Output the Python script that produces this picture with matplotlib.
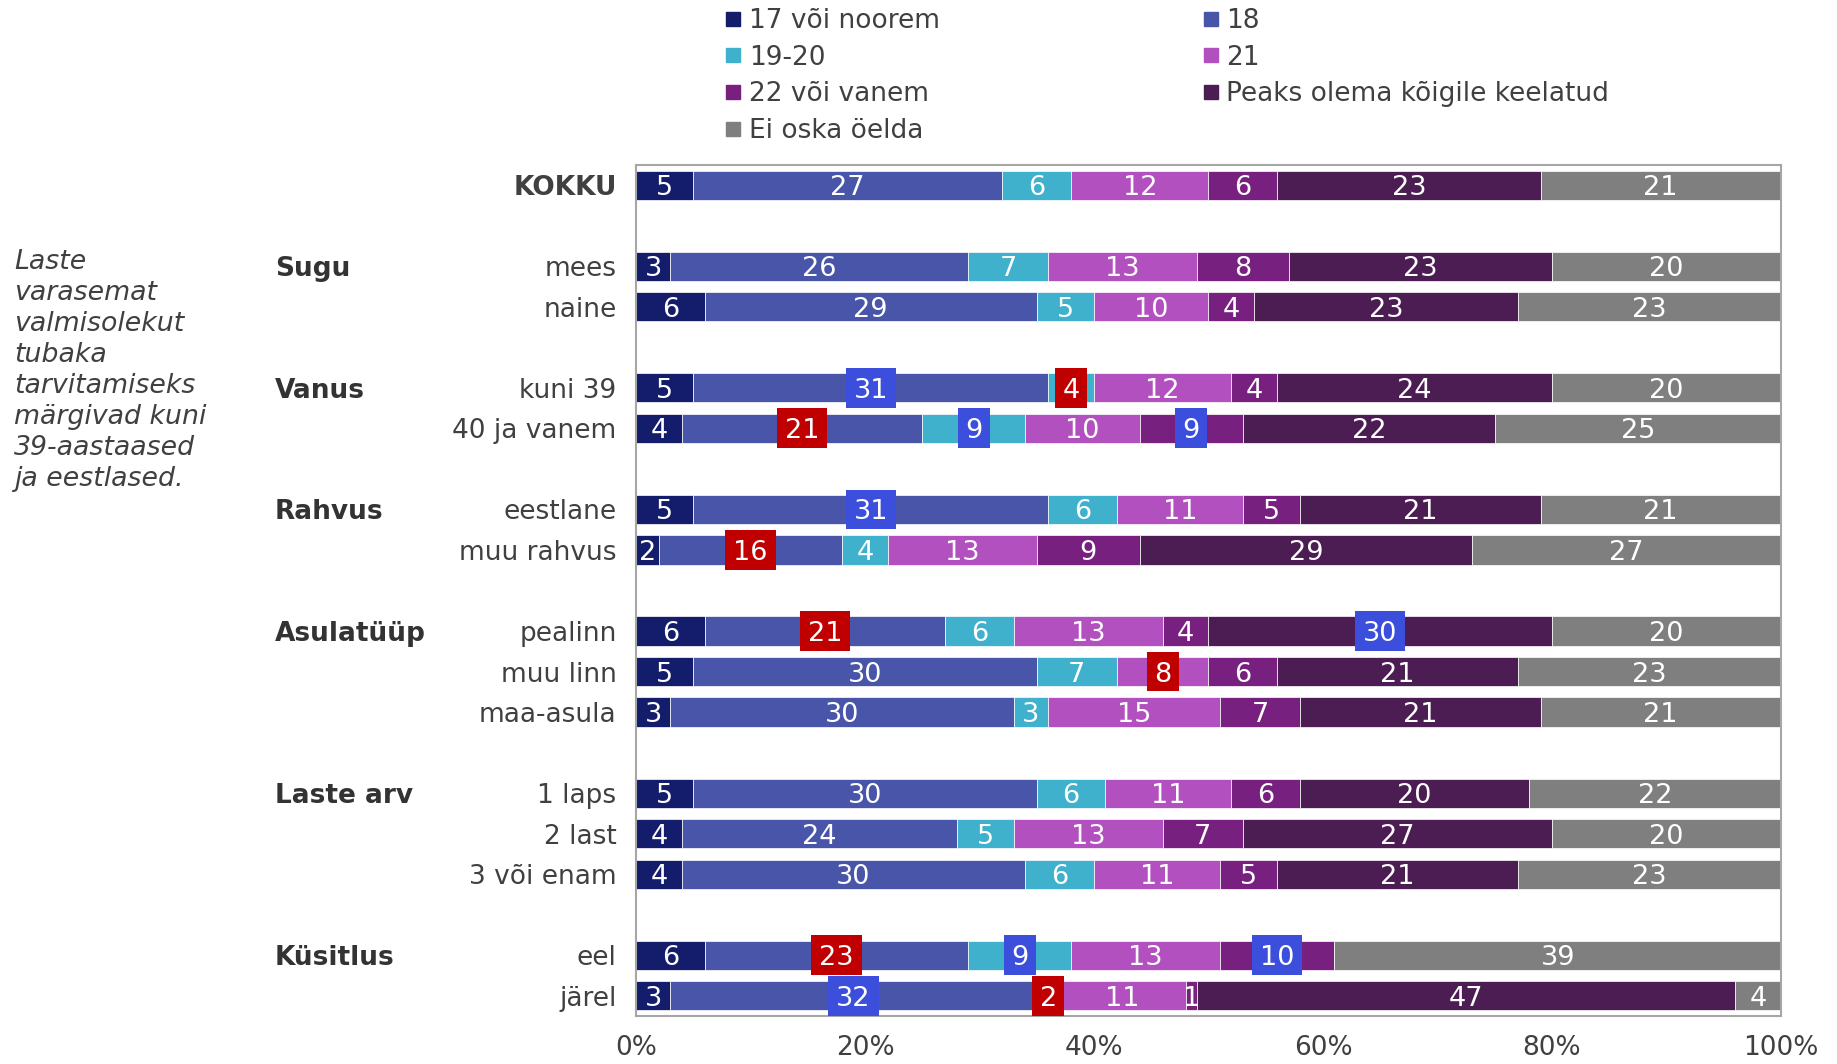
import numpy as np
import matplotlib
matplotlib.use("Agg")
import matplotlib.pyplot as plt
import matplotlib.transforms as mtransforms
from matplotlib.patches import Rectangle
from matplotlib.lines import Line2D

plt.rcParams['font.family'] = ['DejaVu Sans']

# groups and rows (top to bottom)
groups = ["", "Sugu", "Vanus", "Rahvus", "Asulatüüp", "Laste arv", "Küsitlus"]
rows = [["KOKKU"],
        ["mees", "naine"],
        ["kuni 39", "40 ja vanem"],
        ["eestlane", "muu rahvus"],
        ["pealinn", "muu linn", "maa-asula"],
        ["1 laps", "2 last", "3 või enam"],
        ["eel", "järel"]]

series = ["17 või noorem", "18", "19-20", "21", "22 või vanem",
          "Peaks olema kõigile keelatud", "Ei oska öelda"]
colors = ["#141c6c", "#4855a8", "#40b1cc", "#b350c0", "#782080", "#4b1d52", "#7f7f7f"]

v17 = [5, 3, 6, 5, 4, 5, 2, 6, 5, 3, 5, 4, 4, 6, 3]
v18 = [27, 26, 29, 31, 21, 31, 16, 21, 30, 30, 30, 24, 30, 23, 32]
v1920 = [6, 7, 5, 4, 9, 6, 4, 6, 7, 3, 6, 5, 6, 9, 2]
v21 = [12, 13, 10, 12, 10, 11, 13, 13, 8, 15, 11, 13, 11, 13, 11]
v22 = [6, 8, 4, 4, 9, 5, 9, 4, 6, 7, 6, 7, 5, 10, 1]
vkeel = [23, 23, 23, 24, 22, 21, 29, 30, 21, 21, 20, 27, 21, 0, 47]
vei = [21, 20, 23, 20, 25, 21, 27, 20, 23, 21, 22, 20, 23, 39, 4]
values = [v17, v18, v1920, v21, v22, vkeel, vei]

# significantly higher (blue) / lower (red) cells: (row, series index)
higher = [("kuni 39", 1), ("40 ja vanem", 2), ("40 ja vanem", 4), ("eestlane", 1),
          ("pealinn", 5), ("eel", 2), ("eel", 4), ("järel", 1)]
lower = [("kuni 39", 2), ("40 ja vanem", 1), ("muu rahvus", 1), ("pealinn", 1),
         ("muu linn", 3), ("eel", 1), ("järel", 2)]

note = "Laste\nvarasemat\nvalmisolekut\ntubaka\ntarvitamiseks\nmärgivad kuni\n39-aastaased\nja eestlased."

txt = "#404040"

# positions with an empty slot between groups
labels, ypos, group_pos = [], [], []
p = 0
for g, rr in zip(groups, rows):
    group_pos.append(p)
    for r in rr:
        labels.append(r)
        ypos.append(p)
        p += 1
    p += 1
ypos = np.array(ypos, dtype=float)

fig = plt.figure(figsize=(18.37, 10.64), dpi=100)
ax = fig.add_axes([0.3462, 0.0451, 0.6233, 0.7999])

left = np.zeros(len(labels))
for i, vals in enumerate(values):
    vals = np.array(vals, dtype=float)
    ax.barh(ypos, vals, left=left, height=0.72, color=colors[i],
            edgecolor="white", linewidth=0.5, zorder=2)
    for lab, y, l, v in zip(labels, ypos, left, vals):
        if v == 0:
            continue
        cx = l + v / 2
        s = str(int(v))
        box = None
        if (lab, i) in higher:
            box = "#3b4fdc"
        elif (lab, i) in lower:
            box = "#c00000"
        if box:
            w = 2.8 if len(s) == 1 else 4.4
            ax.add_patch(Rectangle((cx - w / 2, y - 0.49), w, 0.98,
                                   facecolor=box, edgecolor="none", zorder=3))
        ax.text(cx, y, s, ha="center", va="center_baseline", color="white",
                fontsize=19.5, zorder=4)
    left += vals

ax.set_xlim(0, 100)
ax.set_ylim(p - 1.5, -0.5)
ax.set_xticks([0, 20, 40, 60, 80, 100])
ax.set_xticklabels(["0%", "20%", "40%", "60%", "80%", "100%"])
ax.set_yticks(ypos)
ax.set_yticklabels(labels)
ax.tick_params(axis="both", length=0, labelsize=19, labelcolor=txt)
ax.tick_params(axis="x", pad=14)
ax.tick_params(axis="y", pad=14)
ax.get_yticklabels()[0].set_fontweight("bold")
for sp in ax.spines.values():
    sp.set_color("#a6a6a6")
    sp.set_linewidth(1.5)

trans = mtransforms.blended_transform_factory(fig.transFigure, ax.transData)
for g, gp in zip(groups, group_pos):
    if g:
        ax.text(0.1497, gp, g, transform=trans, ha="left", va="center_baseline",
                fontsize=19, fontweight="bold", color="#333333")

fig.text(0.0076, 0.7656, note, ha="left", va="top", fontsize=19.3,
         style="italic", color=txt, linespacing=1.25)

handles = [Line2D([], [], marker="s", ls="", color=c, markersize=10) for c in colors]
order = [0, 2, 4, 6, 1, 3, 5]
fig.legend([handles[k] for k in order], [series[k] for k in order],
           loc="upper left", bbox_to_anchor=(0.3947, 0.9927), ncol=2,
           frameon=False, fontsize=19, handlelength=0.6, handletextpad=0.3,
           columnspacing=9.96, labelspacing=0.41, borderaxespad=0, borderpad=0,
           labelcolor=txt)

fig.savefig("out.png", dpi=100)
